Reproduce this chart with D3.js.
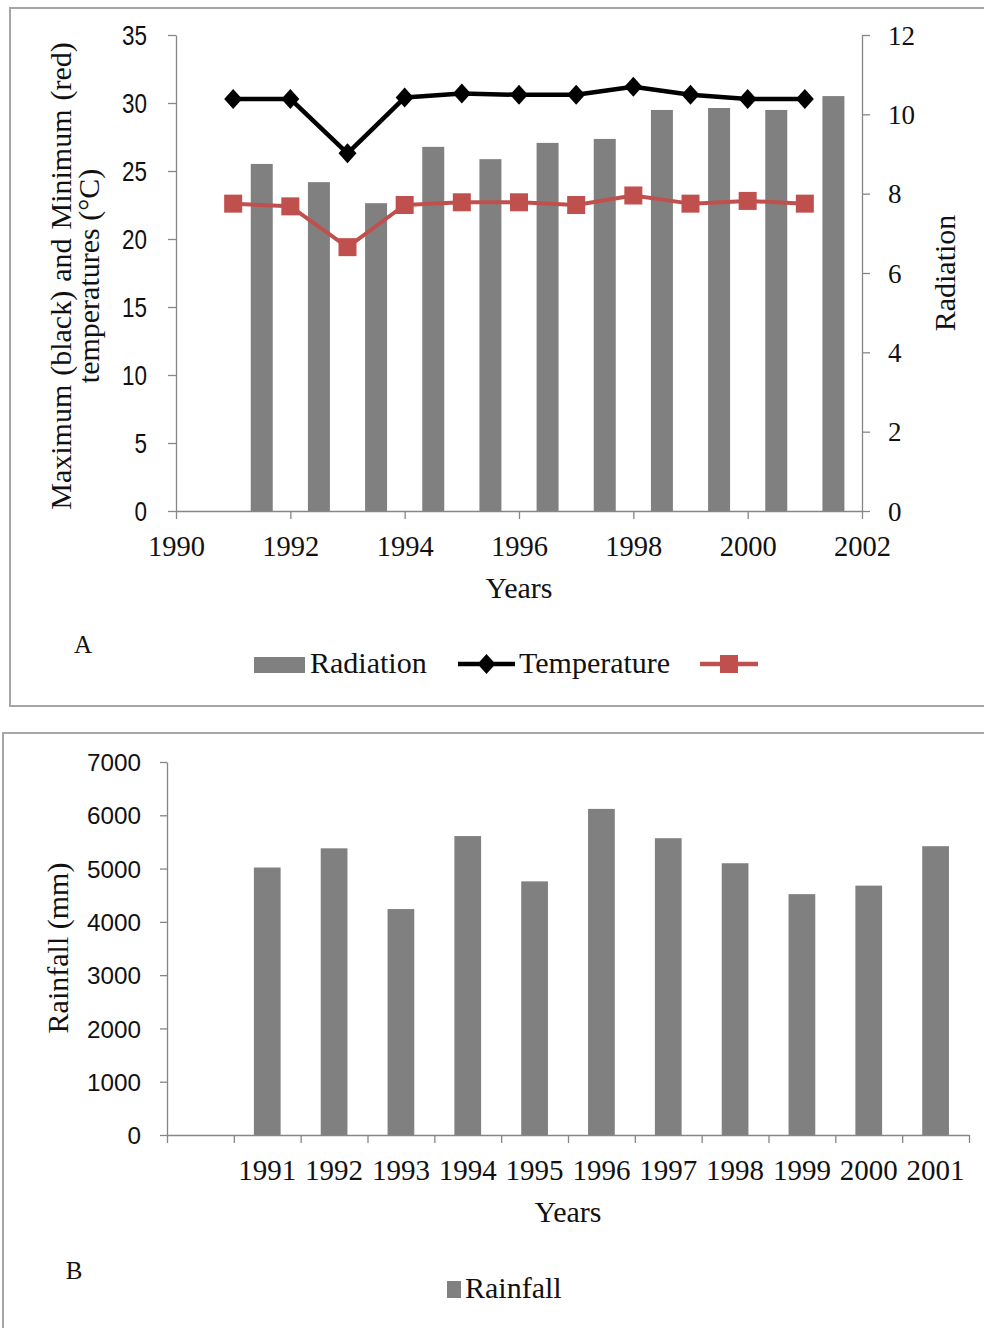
<!DOCTYPE html>
<html><head><meta charset="utf-8">
<script src="https://cdn.jsdelivr.net/npm/d3@7"></script>
<style>html,body{margin:0;padding:0;background:#fff;}svg{display:block;}</style>
</head><body>
<svg id="chart" width="984" height="1328"></svg>
<script>
// ---- data ----
const years = [1991, 1992, 1993, 1994, 1995, 1996, 1997, 1998, 1999, 2000, 2001];
const radiation = [8.75, 8.29, 7.76, 9.18, 8.87, 9.28, 9.38, 10.11, 10.16, 10.11, 10.46];
const tempMax = [30.3, 30.3, 26.3, 30.4, 30.7, 30.6, 30.6, 31.2, 30.6, 30.3, 30.3];
const tempMin = [22.6, 22.4, 19.4, 22.5, 22.7, 22.7, 22.5, 23.2, 22.6, 22.8, 22.6];
const xTicksA = [1990, 1992, 1994, 1996, 1998, 2000, 2002];
const yTicksLeftA = [0, 5, 10, 15, 20, 25, 30, 35];
const yTicksRightA = [0, 2, 4, 6, 8, 10, 12];
const rainCategories = ["", "1991", "1992", "1993", "1994", "1995", "1996", "1997", "1998", "1999", "2000", "2001"];
const rainfall = [5020, 5380, 4240, 5610, 4760, 6120, 5570, 5100, 4520, 4680, 5420];
const yTicksB = [0, 1000, 2000, 3000, 4000, 5000, 6000, 7000];

const svg = d3.select("#chart");
const serif = "'Liberation Serif','Times New Roman',serif";
const sans = "'Liberation Sans',Arial,sans-serif";
const axisColor = "#868686";
const barColor = "#808080";

// frames
svg.append("rect").attr("x", 10).attr("y", 8).attr("width", 990).attr("height", 698)
  .attr("fill", "none").attr("stroke", "#a6a6a6").attr("stroke-width", 2);
svg.append("rect").attr("x", 3).attr("y", 733).attr("width", 1000).attr("height", 620)
  .attr("fill", "none").attr("stroke", "#a6a6a6").attr("stroke-width", 2);

// ===== Chart A =====
const xA = d3.scaleLinear().domain([1990, 2002]).range([176, 862]);
const yL = d3.scaleLinear().domain([0, 35]).range([511, 35]);
const yR = d3.scaleLinear().domain([0, 12]).range([511, 35]);

function styleAxis(g) {
  g.selectAll("path.domain").attr("stroke", axisColor).attr("stroke-width", 1.3);
  g.selectAll(".tick line").attr("stroke", axisColor).attr("stroke-width", 1.3);
}

// bars
svg.append("g").selectAll("rect").data(years).join("rect")
  .attr("x", (d) => xA(d + 0.5) - 11)
  .attr("width", 22)
  .attr("y", (d, i) => yR(radiation[i]))
  .attr("height", (d, i) => yR(0) - yR(radiation[i]))
  .attr("fill", barColor);

// left axis
const gL = svg.append("g").attr("transform", "translate(176,0)")
  .call(d3.axisLeft(yL).tickValues(yTicksLeftA).tickSize(8).tickSizeOuter(0).tickFormat(d3.format("d")));
styleAxis(gL);
gL.selectAll(".tick text").attr("x", -29).attr("dy", "0.36em")
  .attr("font-family", sans).attr("font-size", 27).attr("fill", "#111")
  .attr("textLength", (d) => String(d).length * 12.5).attr("lengthAdjust", "spacingAndGlyphs");

// right axis
const gR = svg.append("g").attr("transform", "translate(862,0)")
  .call(d3.axisRight(yR).tickValues(yTicksRightA).tickSize(8).tickSizeOuter(0).tickFormat(d3.format("d")));
styleAxis(gR);
gR.selectAll(".tick text").attr("x", 26).attr("dy", "0.34em")
  .attr("font-family", serif).attr("font-size", 27).attr("fill", "#111");

// bottom axis
const gX = svg.append("g").attr("transform", "translate(0,511)")
  .call(d3.axisBottom(xA).tickValues(xTicksA).tickSize(8).tickSizeOuter(0).tickFormat(d3.format("d")));
styleAxis(gX);
gX.selectAll(".tick text").attr("y", 45).attr("dy", 0)
  .attr("font-family", serif).attr("font-size", 28.5).attr("fill", "#111");

// lines
const lineMax = d3.line().x((d) => xA(d[0])).y((d) => yL(d[1]));
const maxPts = years.map((y, i) => [y, tempMax[i]]);
const minPts = years.map((y, i) => [y, tempMin[i]]);
svg.append("path").datum(minPts).attr("d", lineMax).attr("fill", "none")
  .attr("stroke", "#c0504d").attr("stroke-width", 4).attr("stroke-linejoin", "round");
svg.append("g").selectAll("rect").data(minPts).join("rect")
  .attr("x", (d) => xA(d[0]) - 9).attr("y", (d) => yL(d[1]) - 9)
  .attr("width", 18).attr("height", 18).attr("fill", "#c0504d");
svg.append("path").datum(maxPts).attr("d", lineMax).attr("fill", "none")
  .attr("stroke", "#000").attr("stroke-width", 4.5).attr("stroke-linejoin", "round");
const diamond = "M0,-10L9,0L0,10L-9,0Z";
svg.append("g").selectAll("path").data(maxPts).join("path")
  .attr("d", diamond).attr("transform", (d) => `translate(${xA(d[0])},${yL(d[1])})`)
  .attr("fill", "#000");

// axis titles A
svg.append("text").attr("transform", "translate(71,276) rotate(-90)")
  .attr("text-anchor", "middle").attr("font-family", serif).attr("font-size", 30).attr("fill", "#111")
  .attr("word-spacing", 1.5)
  .text("Maximum (black) and Minimum (red)");
svg.append("text").attr("transform", "translate(99,276) rotate(-90)")
  .attr("text-anchor", "middle").attr("font-family", serif).attr("font-size", 30).attr("fill", "#111")
  .text("temperatures (°C)");
svg.append("text").attr("transform", "translate(955,273) rotate(-90)")
  .attr("text-anchor", "middle").attr("font-family", serif).attr("font-size", 30).attr("fill", "#111")
  .text("Radiation");
svg.append("text").attr("x", 519).attr("y", 598).attr("text-anchor", "middle")
  .attr("font-family", serif).attr("font-size", 30).attr("fill", "#111").text("Years");
svg.append("text").attr("x", 83).attr("y", 653).attr("text-anchor", "middle")
  .attr("font-family", serif).attr("font-size", 25).attr("fill", "#111").text("A");

// legend A
const lgA = svg.append("g");
lgA.append("rect").attr("x", 254).attr("y", 657).attr("width", 51).attr("height", 16).attr("fill", barColor);
lgA.append("text").attr("x", 310).attr("y", 673).attr("font-family", serif).attr("font-size", 30).attr("fill", "#111").text("Radiation");
lgA.append("line").attr("x1", 458).attr("x2", 515).attr("y1", 664).attr("y2", 664).attr("stroke", "#000").attr("stroke-width", 4.5);
lgA.append("path").attr("d", diamond).attr("transform", "translate(486.5,664)").attr("fill", "#000");
lgA.append("text").attr("x", 519).attr("y", 673).attr("font-family", serif).attr("font-size", 30).attr("fill", "#111").text("Temperature");
lgA.append("line").attr("x1", 700).attr("x2", 758).attr("y1", 664).attr("y2", 664).attr("stroke", "#c0504d").attr("stroke-width", 4.5);
lgA.append("rect").attr("x", 720).attr("y", 655).attr("width", 18).attr("height", 18).attr("fill", "#c0504d");

// ===== Chart B =====
const xB = d3.scaleBand().domain(rainCategories).range([167, 969]).paddingInner(0.6).paddingOuter(0.3);
const yB = d3.scaleLinear().domain([0, 7000]).range([1135, 762]);

svg.append("g").selectAll("rect").data(rainfall).join("rect")
  .attr("x", (d, i) => xB(rainCategories[i + 1]))
  .attr("width", xB.bandwidth())
  .attr("y", (d) => yB(d))
  .attr("height", (d) => yB(0) - yB(d))
  .attr("fill", barColor);

const gBL = svg.append("g").attr("transform", "translate(167,0)")
  .call(d3.axisLeft(yB).tickValues(yTicksB).tickSize(7).tickSizeOuter(0).tickFormat(d3.format("d")));
styleAxis(gBL);
gBL.selectAll(".tick text").attr("x", -26).attr("dy", "0.36em")
  .attr("font-family", sans).attr("font-size", 24).attr("fill", "#111")
  .attr("textLength", (d) => String(d).length * 13.5).attr("lengthAdjust", "spacingAndGlyphs");

// category boundary axis
const idx = d3.scaleLinear().domain([0, rainCategories.length]).range([167, 969]);
const gBX = svg.append("g").attr("transform", "translate(0,1135)")
  .call(d3.axisBottom(idx).tickValues(d3.range(0, rainCategories.length + 1)).tickSize(8).tickSizeOuter(0).tickFormat(""));
styleAxis(gBX);
svg.append("g").selectAll("text").data(rainCategories.filter((c) => c !== "")).join("text")
  .attr("x", (d) => xB(d) + xB.bandwidth() / 2).attr("y", 1180)
  .attr("text-anchor", "middle").attr("font-family", serif).attr("font-size", 29).attr("fill", "#111")
  .text((d) => d);

svg.append("text").attr("transform", "translate(68,948) rotate(-90)")
  .attr("text-anchor", "middle").attr("font-family", serif).attr("font-size", 30).attr("fill", "#111")
  .text("Rainfall (mm)");
svg.append("text").attr("x", 568).attr("y", 1222).attr("text-anchor", "middle")
  .attr("font-family", serif).attr("font-size", 30).attr("fill", "#111").text("Years");
svg.append("text").attr("x", 74).attr("y", 1279).attr("text-anchor", "middle")
  .attr("font-family", serif).attr("font-size", 25).attr("fill", "#111").text("B");
svg.append("rect").attr("x", 447).attr("y", 1281).attr("width", 14).attr("height", 17).attr("fill", barColor);
svg.append("text").attr("x", 465).attr("y", 1298).attr("font-family", serif).attr("font-size", 30).attr("fill", "#111").text("Rainfall");
</script>
</body></html>
